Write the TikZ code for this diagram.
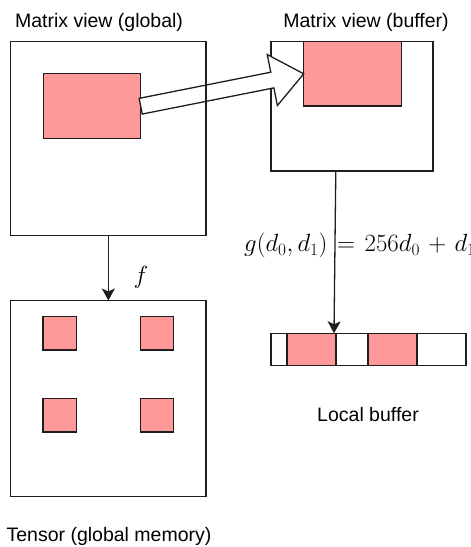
\documentclass[tikz,border=0pt]{standalone}
\usepackage{fontspec}
\newfontfamily\labelfont{Liberation Sans}
\usetikzlibrary{calc,arrows.meta}

\definecolor{cellpink}{HTML}{FF9999}
\definecolor{edge}{HTML}{1E1E1E}

\tikzset{
  frame/.style={draw=edge, line width=1.3pt, inner sep=0pt, outer sep=0pt},
  hot/.style={frame, fill=cellpink},
  cell/.style={frame, minimum height=32.4pt},
  caption/.style={font=\labelfont\fontsize{19.5}{23}\selectfont, inner sep=0pt, anchor=base},
  mathlabel/.style={font=\fontsize{24}{28}\selectfont, inner sep=0pt},
  biglabel/.style={font=\fontsize{26}{30}\selectfont, inner sep=0pt},
  flow/.style={draw=edge, line width=1.3pt, -{Stealth[length=12pt,width=13pt,inset=3pt]}},
  hollow/.style={draw=edge, line width=1.3pt, fill=white, line join=miter}
}

\begin{document}
\begin{tikzpicture}[x=1pt, y=-1pt]
  \useasboundingbox (0,0) rectangle (471,547);

  % captions
  \node[caption] (tglobal) at (99,27.3) {Matrix view (global)};
  \node[caption] (tbuffer) at (366,27.3) {Matrix view (buffer)};
  \node[caption] (ttensor) at (109,541.5) {Tensor (global memory)};
  \node[caption] (tlocal)  at (368,421) {Local buffer};

  % buffer matrix view with its tile
  \node[frame, minimum width=162pt, minimum height=129.3pt] (rbox) at (352,106.3) {};
  \node[hot, minimum width=98pt, minimum height=64.3pt] (pinkR) at (352.7,73.8) {};

  % tile in the global matrix view
  \node[hot, minimum width=97.4pt, minimum height=65pt] (pinkL) at (92,106.2) {};

  % hollow arrow: tile copied into the buffer
  \coordinate (s) at (pinkL.east);
  \coordinate (t) at (pinkR.west);
  \coordinate (hb) at ($(t)!32pt!(s)$);
  \path[hollow] ($(s)!8pt!90:(t)$) -- ($(hb)!8pt!90:(t)$) -- ($(hb)!26pt!90:(t)$)
     -- (t) -- ($(hb)!26pt!-90:(t)$) -- ($(hb)!8pt!-90:(t)$) -- ($(s)!8pt!-90:(t)$) -- cycle;

  % global matrix view
  \node[frame, minimum width=195.3pt, minimum height=194.4pt] (gbox) at (108.35,138.5) {};

  % tensor in global memory with its four tiles
  \node[frame, minimum width=195.3pt, minimum height=196pt] (tbox) at (108.35,398.5) {};
  \node[hot, minimum width=33.3pt, minimum height=33.3pt] (q1) at (59.6,333.4) {};
  \node[hot, minimum width=33.3pt, minimum height=33.3pt] (q2) at (157,333.4) {};
  \node[hot, minimum width=33.3pt, minimum height=33.3pt] (q3) at (59.6,415.2) {};
  \node[hot, minimum width=33.3pt, minimum height=33.3pt] (q4) at (157,415.2) {};

  % linear local buffer
  \node[cell, minimum width=16pt] (c1) at (279,349.5) {};
  \node[cell, fill=cellpink, minimum width=49pt] (c2) at (311.5,349.5) {};
  \node[cell, minimum width=32pt] (c3) at (352,349.5) {};
  \node[cell, fill=cellpink, minimum width=49pt] (c4) at (392.5,349.5) {};
  \node[cell, minimum width=49pt] (c5) at (441.5,349.5) {};

  % mappings
  \draw[flow] (gbox.south) -- (tbox.north);
  \node[mathlabel] (fl) at (141,277) {$f$};

  \coordinate (rs) at ($(rbox.south west)!0.4!(rbox.south east)$);
  \coordinate (re) at ($(c2.north east)+(-2,0)$);
  \draw[flow] (rs) -- (re);
  \node[biglabel, anchor=base west] (gl) at (244,251.5)
    {$g(d_0, d_1) \mkern2mu=\mkern2mu 256 d_0 \mkern2mu+\mkern2mu d_1$};
\end{tikzpicture}
\end{document}
